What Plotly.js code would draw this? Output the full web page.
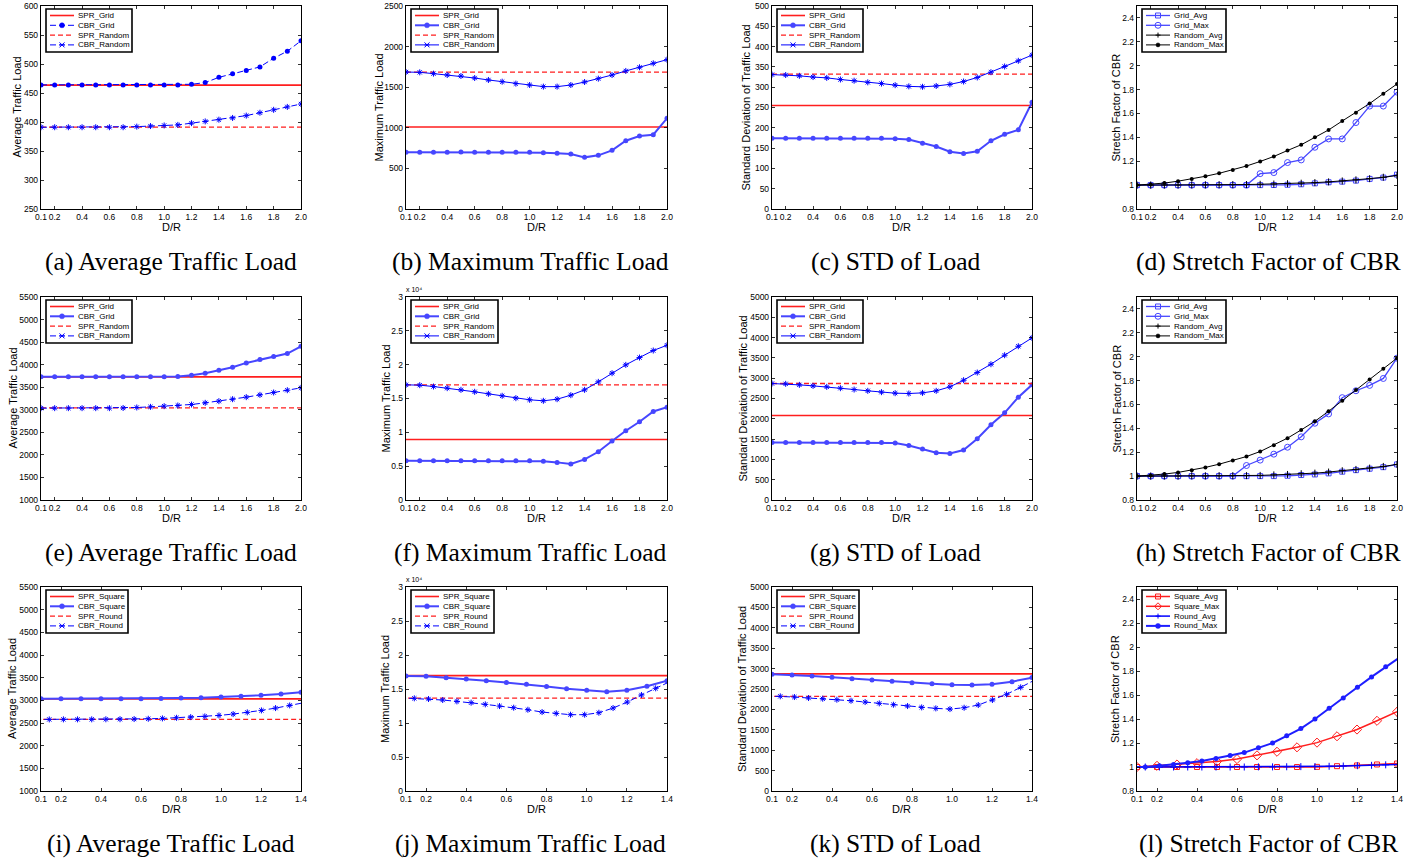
<!DOCTYPE html>
<html><head><meta charset="utf-8">
<script src="https://cdn.plot.ly/plotly-3.0.1.min.js"></script>
<style>html,body{margin:0;padding:0;background:#fff}#chart{width:1421px;height:859px}</style>
</head><body><div id="chart"></div>
<script>
// ---------------- DATA ----------------
const dr = [0.1,0.2,0.3,0.4,0.5,0.6,0.7,0.8,0.9,1.0,1.1,1.2,1.3,1.4,1.5,1.6,1.7,1.8,1.9,2.0];
const drSquare = [0.1,0.2,0.3,0.4,0.5,0.6,0.7,0.8,0.9,1.0,1.1,1.2,1.3,1.4];
const drRound = [0.0707,0.1414,0.2121,0.2828,0.3536,0.4243,0.4950,0.5657,0.6364,0.7071,0.7778,0.8485,0.9192,0.9899,1.0607,1.1314,1.2021,1.2728,1.3435,1.4142];

// (a) Average traffic load
const aSprGrid   = [463.5,463.5,463.5,463.5,463.5,463.5,463.5,463.5,463.5,463.5,463.5,463.5,463.5,463.5,463.5,463.5,463.5,463.5,463.5,463.5];
const aCbrGrid   = [464,464,464,464,464,464,464,464,464,464,464,465,468,477,483,489,495,510,522,540];
const aSprRandom = [391,391,391,391,391,391,391,391,391,391,391,391,391,391,391,391,391,391,391,391];
const aCbrRandom = [391,391,391,391,391,391,391,392,393,394,395,398,401,404,407,411,416,421,426,431];
// (b) Maximum traffic load
const bSprGrid   = [1010,1010,1010,1010,1010,1010,1010,1010,1010,1010,1010,1010,1010,1010,1010,1010,1010,1010,1010,1010];
const bCbrGrid   = [698,698,698,698,702,698,698,698,698,698,694,686,677,636,661,722,841,899,915,1117];
const bSprRandom = [1685,1685,1685,1685,1685,1685,1685,1685,1685,1685,1685,1685,1685,1685,1685,1685,1685,1685,1685,1685];
const bCbrRandom = [1687,1683,1667,1650,1638,1613,1589,1568,1544,1527,1507,1507,1527,1564,1605,1650,1700,1745,1794,1839];
// (c) STD of load
const cSprGrid   = [255,255,255,255,255,255,255,255,255,255,255,255,255,255,255,255,255,255,255,255];
const cCbrGrid   = [174,174,174,174,174,174,174,174,174,173,171,162,154,141,137,142,168,184,195,263];
const cSprRandom = [332,332,332,332,332,332,332,332,332,332,332,332,332,332,332,332,332,332,332,332];
const cCbrRandom = [331,330,328,325,323,319,316,312,309,305,302,301,303,307,314,324,337,351,365,379];
// (d) Stretch factor
const dGridAvg   = [1,1,1,1,1,1,1,1,1,1,1.001,1.003,1.007,1.015,1.024,1.029,1.038,1.052,1.063,1.088];
const dGridMax   = [1,1,1,1,1,1,1,1,1,1.096,1.105,1.189,1.211,1.317,1.387,1.387,1.524,1.662,1.662,1.779];
const dRandomAvg = [1,1,1.001,1.001,1.002,1.002,1.003,1.004,1.005,1.007,1.009,1.012,1.016,1.021,1.027,1.035,1.044,1.054,1.066,1.08];
const dRandomMax = [1,1.006,1.017,1.033,1.052,1.074,1.099,1.127,1.16,1.198,1.24,1.29,1.338,1.4,1.462,1.537,1.607,1.683,1.766,1.847];
// (e)
const eSprGrid   = [3730,3730,3730,3730,3730,3730,3730,3730,3730,3730,3730,3730,3730,3730,3730,3730,3730,3730,3730,3730];
const eCbrGrid   = [3730,3730,3730,3730,3730,3730,3730,3730,3730,3730,3737,3766,3811,3877,3943,4039,4113,4179,4246,4408];
const eSprRandom = [3040,3040,3040,3040,3040,3040,3040,3040,3040,3040,3040,3040,3040,3040,3040,3040,3040,3040,3040,3040];
const eCbrRandom = [3036,3036,3036,3036,3036,3036,3040,3051,3065,3080,3095,3117,3154,3191,3235,3280,3331,3383,3434,3486];
// (f)
const fSprGrid   = [8950,8950,8950,8950,8950,8950,8950,8950,8950,8950,8950,8950,8950,8950,8950,8950,8950,8950,8950,8950];
const fCbrGrid   = [5800,5800,5800,5800,5800,5800,5800,5800,5800,5790,5710,5560,5310,6000,7130,8710,10230,11560,13080,13720];
const fSprRandom = [17000,17000,17000,17000,17000,17000,17000,17000,17000,17000,17000,17000,17000,17000,17000,17000,17000,17000,17000,17000];
const fCbrRandom = [17020,16970,16770,16530,16280,15990,15690,15400,15050,14810,14660,14900,15490,16280,17460,18740,19970,21050,22090,22870];
// (g)
const gSprGrid   = [2082,2082,2082,2082,2082,2082,2082,2082,2082,2082,2082,2082,2082,2082,2082,2082,2082,2082,2082,2082];
const gCbrGrid   = [1418,1418,1418,1418,1418,1418,1418,1418,1418,1402,1344,1254,1164,1148,1230,1508,1852,2148,2533,2836];
const gSprRandom = [2869,2869,2869,2869,2869,2869,2869,2869,2869,2869,2869,2869,2869,2869,2869,2869,2869,2869,2869,2869];
const gCbrRandom = [2869,2861,2836,2811,2787,2754,2721,2689,2656,2631,2623,2639,2689,2787,2951,3139,3344,3566,3787,3992];
// (h)
const hGridAvg   = [1,1,1,1,1,1,1,1,1,1,1,1.003,1.009,1.014,1.023,1.037,1.05,1.062,1.075,1.098];
const hGridMax   = [1,1,1,1,1,1,1,1,1.089,1.134,1.184,1.242,1.329,1.443,1.521,1.657,1.715,1.76,1.818,1.988];
const hRandomAvg = [1,1,1.001,1.001,1.002,1.002,1.003,1.003,1.004,1.006,1.01,1.014,1.02,1.025,1.034,1.045,1.056,1.067,1.081,1.098];
const hRandomMax = [1,1.006,1.017,1.031,1.05,1.073,1.1,1.131,1.164,1.206,1.259,1.318,1.387,1.459,1.543,1.632,1.721,1.81,1.899,1.988];
// (i)
const iSprSquare = [3032,3032,3032,3032,3032,3032,3032,3032,3032,3032,3032,3032,3032,3032];
const iCbrSquare = [3036,3036,3036,3036,3036,3036,3043,3051,3058,3073,3088,3110,3139,3176];
const iSprRound  = [2580,2580,2580,2580,2580,2580,2580,2580,2580,2580,2580,2580,2580,2580,2580,2580,2580,2580,2580,2580];
const iCbrRound  = [2579,2579,2580,2580,2581,2582,2584,2587,2593,2601,2615,2630,2645,2667,2697,2734,2778,2829,2888,2947];
// (j)
const jSprSquare = [16970,16970,16970,16970,16970,16970,16970,16970,16970,16970,16970,16970,16970,16970];
const jCbrSquare = [16920,16870,16670,16480,16230,15940,15690,15350,15050,14810,14610,14810,15400,16230];
const jSprRound  = [13670,13670,13670,13670,13670,13670,13670,13670,13670,13670,13670,13670,13670,13670,13670,13670,13670,13670,13670,13670];
const jCbrRound  = [13700,13630,13530,13380,13180,12990,12740,12490,12250,11950,11610,11410,11220,11220,11510,12200,13080,14120,15100,16080];
// (k)
const kSprSquare = [2870,2870,2870,2870,2870,2870,2870,2870,2870,2870,2870,2870,2870,2870];
const kCbrSquare = [2861,2844,2820,2787,2754,2721,2689,2656,2631,2607,2598,2615,2680,2779];
const kSprRound  = [2320,2320,2320,2320,2320,2320,2320,2320,2320,2320,2320,2320,2320,2320,2320,2320,2320,2320,2320,2320];
const kCbrRound  = [2330,2320,2303,2279,2262,2238,2213,2180,2148,2115,2082,2049,2025,2008,2041,2107,2230,2369,2541,2721];
// (l)
const lSquareAvg = [1,1,1,1,1,1,1,1,1,1.001,1.007,1.013,1.021,1.029];
const lSquareMax = [1,1.01,1.021,1.032,1.046,1.066,1.097,1.127,1.164,1.203,1.256,1.312,1.385,1.46];
const lRoundAvg  = [1,1,1,1,1,1,1,1,1,1.001,1.001,1.002,1.003,1.004,1.006,1.008,1.011,1.014,1.018,1.022];
const lRoundMax  = [1,1.001,1.01,1.021,1.035,1.05,1.07,1.095,1.12,1.16,1.2,1.26,1.32,1.4,1.49,1.575,1.664,1.751,1.835,1.915];

// tick labels
const xTicks20 = [0.1,0.2,0.4,0.6,0.8,1.0,1.2,1.4,1.6,1.8,2.0];
const xTickText20 = ['0.1','0.2','0.4','0.6','0.8','1.0','1.2','1.4','1.6','1.8','2.0'];
const xTicks14 = [0.1,0.2,0.4,0.6,0.8,1.0,1.2,1.4];
const xTickText14 = ['0.1','0.2','0.4','0.6','0.8','1.0','1.2','1.4'];
const yTicksA = [250,300,350,400,450,500,550,600];
const yTicksB = [0,500,1000,1500,2000,2500];
const yTicksC = [0,50,100,150,200,250,300,350,400,450,500];
const yTicksStretch = [0.8,1,1.2,1.4,1.6,1.8,2,2.2,2.4];
const yTickTextStretch = ['0.8','1','1.2','1.4','1.6','1.8','2','2.2','2.4'];
const yTicksE = [1000,1500,2000,2500,3000,3500,4000,4500,5000,5500];
const yTicksMax4 = [0,5000,10000,15000,20000,25000,30000];
const yTickTextMax4 = ['0','0.5','1','1.5','2','2.5','3'];
const yTicksG = [0,500,1000,1500,2000,2500,3000,3500,4000,4500,5000];

// ---------------- LAYOUT / STYLE ----------------
const W = 1421, H = 859;
const PX = v => v / W, PY = v => 1 - v / H;
const colLR = [[41,301],[406,667],[772,1032],[1137,1397]];
const rowTB = [[6,209],[297,500],[587,791]];
const capX = [171, 530, 895, 1268];
const capY = [261, 552, 843];

const RED = 'rgb(255,30,30)', BLUE = 'rgb(0,0,255)', LBLUE = 'rgb(70,70,255)';
const sprSolid = {color: RED, width: 1.6, dash: 'solid'};
const sprDash  = {color: RED, width: 1.3, dash: '5px,3px'};
const cbrDotDash  = {color: BLUE, width: 1, dash: '6px,3px', symbol: 'circle', size: 5};
const cbrDotSolid = {color: LBLUE, width: 2, dash: 'solid', symbol: 'circle', size: 5};
const cbrXSolid   = {color: BLUE, width: 1, dash: 'solid', symbol: 'asterisk-open', size: 5};
const cbrXDash    = {color: BLUE, width: 1, dash: '6px,3px', symbol: 'asterisk-open', size: 5};
const gAvg = {color: LBLUE, width: 1.3, dash: 'solid', symbol: 'square-open', size: 5};
const gMax = {color: LBLUE, width: 1.3, dash: 'solid', symbol: 'circle-open', size: 6};
const rAvg = {color: '#000', width: 1, dash: 'solid', symbol: 'cross-thin-open', size: 5};
const rMax = {color: '#000', width: 1, dash: 'solid', symbol: 'circle', size: 4};
const sqAvg = {color: RED, width: 1.5, dash: 'solid', symbol: 'square-open', size: 5};
const sqMax = {color: RED, width: 1.5, dash: 'solid', symbol: 'diamond-open', size: 7};
const rdAvg = {color: BLUE, width: 1.5, dash: 'solid', symbol: 'cross-thin-open', size: 5};
const rdMax = {color: 'rgb(30,30,255)', width: 2, dash: 'solid', symbol: 'circle', size: 5};

const panels = [
 {row:0,col:0,xr:[0.1,2],xt:xTicks20,xtt:xTickText20,yr:[250,600],yt:yTicksA,ytt:null,title:'Average Traffic Load',tOff:24,cap:'(a) Average Traffic Load',legW:86,
  s:[['SPR_Grid',dr,aSprGrid,sprSolid],['CBR_Grid',dr,aCbrGrid,cbrDotDash],['SPR_Random',dr,aSprRandom,sprDash],['CBR_Random',dr,aCbrRandom,cbrXDash]]},
 {row:0,col:1,xr:[0.1,2],xt:xTicks20,xtt:xTickText20,yr:[0,2500],yt:yTicksB,ytt:null,title:'Maximum Traffic Load',tOff:27,cap:'(b) Maximum Traffic Load',legW:87,
  s:[['SPR_Grid',dr,bSprGrid,sprSolid],['CBR_Grid',dr,bCbrGrid,cbrDotSolid],['SPR_Random',dr,bSprRandom,sprDash],['CBR_Random',dr,bCbrRandom,cbrXSolid]]},
 {row:0,col:2,xr:[0.1,2],xt:xTicks20,xtt:xTickText20,yr:[0,500],yt:yTicksC,ytt:null,title:'Standard Deviation of Traffic Load',tOff:26,cap:'(c) STD of Load',legW:86,
  s:[['SPR_Grid',dr,cSprGrid,sprSolid],['CBR_Grid',dr,cCbrGrid,cbrDotSolid],['SPR_Random',dr,cSprRandom,sprDash],['CBR_Random',dr,cCbrRandom,cbrXSolid]]},
 {row:0,col:3,xr:[0.1,2],xt:xTicks20,xtt:xTickText20,yr:[0.8,2.5],yt:yTicksStretch,ytt:yTickTextStretch,title:'Stretch Factor of CBR',tOff:21,cap:'(d) Stretch Factor of CBR',legW:84,
  s:[['Grid_Avg',dr,dGridAvg,gAvg],['Grid_Max',dr,dGridMax,gMax],['Random_Avg',dr,dRandomAvg,rAvg],['Random_Max',dr,dRandomMax,rMax]]},
 {row:1,col:0,xr:[0.1,2],xt:xTicks20,xtt:xTickText20,yr:[1000,5500],yt:yTicksE,ytt:null,title:'Average Traffic Load',tOff:29,cap:'(e) Average Traffic Load',legW:86,
  s:[['SPR_Grid',dr,eSprGrid,sprSolid],['CBR_Grid',dr,eCbrGrid,cbrDotSolid],['SPR_Random',dr,eSprRandom,sprDash],['CBR_Random',dr,eCbrRandom,cbrXDash]]},
 {row:1,col:1,xr:[0.1,2],xt:xTicks20,xtt:xTickText20,yr:[0,30000],yt:yTicksMax4,ytt:yTickTextMax4,title:'Maximum Traffic Load',tOff:21,cap:'(f) Maximum Traffic Load',legW:87,exp:true,
  s:[['SPR_Grid',dr,fSprGrid,sprSolid],['CBR_Grid',dr,fCbrGrid,cbrDotSolid],['SPR_Random',dr,fSprRandom,sprDash],['CBR_Random',dr,fCbrRandom,cbrXSolid]]},
 {row:1,col:2,xr:[0.1,2],xt:xTicks20,xtt:xTickText20,yr:[0,5000],yt:yTicksG,ytt:null,title:'Standard Deviation of Traffic Load',tOff:30,cap:'(g) STD of Load',legW:86,
  s:[['SPR_Grid',dr,gSprGrid,sprSolid],['CBR_Grid',dr,gCbrGrid,cbrDotSolid],['SPR_Random',dr,gSprRandom,sprDash],['CBR_Random',dr,gCbrRandom,cbrXSolid]]},
 {row:1,col:3,xr:[0.1,2],xt:xTicks20,xtt:xTickText20,yr:[0.8,2.5],yt:yTicksStretch,ytt:yTickTextStretch,title:'Stretch Factor of CBR',tOff:21,cap:'(h) Stretch Factor of CBR',legW:84,
  s:[['Grid_Avg',dr,hGridAvg,gAvg],['Grid_Max',dr,hGridMax,gMax],['Random_Avg',dr,hRandomAvg,rAvg],['Random_Max',dr,hRandomMax,rMax]]},
 {row:2,col:0,xr:[0.1,1.4],xt:xTicks14,xtt:xTickText14,yr:[1000,5500],yt:yTicksE,ytt:null,title:'Average Traffic Load',tOff:29,cap:'(i) Average Traffic Load',legW:82,
  s:[['SPR_Square',drSquare,iSprSquare,sprSolid],['CBR_Square',drSquare,iCbrSquare,cbrDotSolid],['SPR_Round',drRound,iSprRound,sprDash],['CBR_Round',drRound,iCbrRound,cbrXDash]]},
 {row:2,col:1,xr:[0.1,1.4],xt:xTicks14,xtt:xTickText14,yr:[0,30000],yt:yTicksMax4,ytt:yTickTextMax4,title:'Maximum Traffic Load',tOff:21,cap:'(j) Maximum Traffic Load',legW:83,exp:true,
  s:[['SPR_Square',drSquare,jSprSquare,sprSolid],['CBR_Square',drSquare,jCbrSquare,cbrDotSolid],['SPR_Round',drRound,jSprRound,sprDash],['CBR_Round',drRound,jCbrRound,cbrXDash]]},
 {row:2,col:2,xr:[0.1,1.4],xt:xTicks14,xtt:xTickText14,yr:[0,5000],yt:yTicksG,ytt:null,title:'Standard Deviation of Traffic Load',tOff:30,cap:'(k) STD of Load',legW:82,
  s:[['SPR_Square',drSquare,kSprSquare,sprSolid],['CBR_Square',drSquare,kCbrSquare,cbrDotSolid],['SPR_Round',drRound,kSprRound,sprDash],['CBR_Round',drRound,kCbrRound,cbrXDash]]},
 {row:2,col:3,xr:[0.1,1.4],xt:xTicks14,xtt:xTickText14,yr:[0.8,2.5],yt:yTicksStretch,ytt:yTickTextStretch,title:'Stretch Factor of CBR',tOff:22,cap:'(l) Stretch Factor of CBR',legW:84,
  s:[['Square_Avg',drSquare,lSquareAvg,sqAvg],['Square_Max',drSquare,lSquareMax,sqMax],['Round_Avg',drRound,lRoundAvg,rdAvg],['Round_Max',drRound,lRoundMax,rdMax]]}
];

const FONT = 'Liberation Sans, Arial, Helvetica, sans-serif';
const axisCommon = {
  ticks: 'inside', ticklen: 3, tickwidth: 0.8, tickcolor: '#000',
  showline: true, linecolor: '#000', linewidth: 1.2, mirror: 'ticks',
  showgrid: false, zeroline: false, tickangle: 0, fixedrange: true,
  tickfont: {family: FONT, size: 8.5, color: '#000'}
};

const data = [], shapes = [], annotations = [];
const layout = {
  width: W, height: H, margin: {l: 0, r: 0, t: 0, b: 0},
  paper_bgcolor: '#fff', plot_bgcolor: 'rgba(0,0,0,0)', showlegend: false
};

function markerShapes(st, cx, cy) {
  const out = [], c = st.color, r = st.size / 2;
  const ln = (x0, y0, x1, y1) => out.push({type: 'line', xref: 'paper', yref: 'paper', x0: PX(x0), y0: PY(y0), x1: PX(x1), y1: PY(y1), line: {color: c, width: 1}, layer: 'above'});
  switch (st.symbol) {
    case 'circle':
      out.push({type: 'circle', xref: 'paper', yref: 'paper', x0: PX(cx - r), x1: PX(cx + r), y0: PY(cy + r), y1: PY(cy - r), fillcolor: c, line: {color: c, width: 0.5}, layer: 'above'}); break;
    case 'circle-open':
      out.push({type: 'circle', xref: 'paper', yref: 'paper', x0: PX(cx - r), x1: PX(cx + r), y0: PY(cy + r), y1: PY(cy - r), fillcolor: 'rgba(0,0,0,0)', line: {color: c, width: 1}, layer: 'above'}); break;
    case 'square-open':
      out.push({type: 'rect', xref: 'paper', yref: 'paper', x0: PX(cx - r), x1: PX(cx + r), y0: PY(cy + r), y1: PY(cy - r), fillcolor: 'rgba(0,0,0,0)', line: {color: c, width: 1}, layer: 'above'}); break;
    case 'diamond-open':
      out.push({type: 'path', xref: 'paper', yref: 'paper', path: `M${PX(cx - r)},${PY(cy)} L${PX(cx)},${PY(cy - r)} L${PX(cx + r)},${PY(cy)} L${PX(cx)},${PY(cy + r)} Z`, fillcolor: 'rgba(0,0,0,0)', line: {color: c, width: 1}, layer: 'above'}); break;
    case 'cross-thin-open':
      ln(cx - r, cy, cx + r, cy); ln(cx, cy - r, cx, cy + r); break;
    case 'asterisk-open':
      ln(cx - r, cy - r, cx + r, cy + r); ln(cx - r, cy + r, cx + r, cy - r); ln(cx - r, cy, cx + r, cy); break;
  }
  return out;
}

panels.forEach((p, i) => {
  const k = i + 1, sfx = k === 1 ? '' : String(k);
  const xa = 'x' + sfx, ya = 'y' + sfx;
  const [L, R] = colLR[p.col], [T, B] = rowTB[p.row];
  layout['xaxis' + sfx] = Object.assign({}, axisCommon, {domain: [PX(L), PX(R)], anchor: ya, range: p.xr, tickvals: p.xt, ticktext: p.xtt});
  const yax = Object.assign({}, axisCommon, {domain: [PY(B), PY(T)], anchor: xa, range: p.yr, tickvals: p.yt});
  if (p.ytt) yax.ticktext = p.ytt;
  layout['yaxis' + sfx] = yax;

  p.s.forEach(([name, xs, ys, st]) => {
    const tr = {type: 'scatter', name: name, x: xs, y: ys, xaxis: xa, yaxis: ya, showlegend: false,
      mode: st.symbol ? 'lines+markers' : 'lines',
      line: {color: st.color, width: st.width, dash: st.dash},
      cliponaxis: xs !== drRound, hoverinfo: 'skip'};
    if (st.symbol) {
      const open = st.symbol.indexOf('open') >= 0;
      tr.marker = {symbol: st.symbol, size: st.size, color: st.color,
        line: {color: st.color, width: open ? 1 : 0}};
    }
    data.push(tr);
  });

  // legend box (MATLAB style)
  const lx = L + 5, ly = T + 3, lw = p.legW, lh = 43;
  shapes.push({type: 'rect', xref: 'paper', yref: 'paper', x0: PX(lx), x1: PX(lx + lw), y0: PY(ly + lh), y1: PY(ly), fillcolor: '#fff', line: {color: '#000', width: 1.6}, layer: 'above'});
  p.s.forEach(([name, xs, ys, st], j) => {
    const cy = ly + 6.5 + 9.8 * j;
    shapes.push({type: 'line', xref: 'paper', yref: 'paper', x0: PX(lx + 4), x1: PX(lx + 28), y0: PY(cy), y1: PY(cy), line: {color: st.color, width: st.width, dash: st.dash}, layer: 'above'});
    if (st.symbol) markerShapes(st, lx + 16, cy).forEach(s => shapes.push(s));
    annotations.push({xref: 'paper', yref: 'paper', x: PX(lx + 30), y: PY(cy), xanchor: 'left', yanchor: 'middle', showarrow: false, text: name, font: {family: FONT, size: 8, color: '#000'}});
  });

  // y title
  annotations.push({xref: 'paper', yref: 'paper', x: PX(L - p.tOff), y: PY((T + B) / 2), xanchor: 'center', yanchor: 'middle', textangle: -90, showarrow: false, text: p.title, font: {family: FONT, size: 11, color: '#000'}});
  // x title
  annotations.push({xref: 'paper', yref: 'paper', x: PX((L + R) / 2), y: PY(B + 18), xanchor: 'center', yanchor: 'middle', showarrow: false, text: 'D/R', font: {family: FONT, size: 11, color: '#000'}});
  // caption
  annotations.push({xref: 'paper', yref: 'paper', x: PX(capX[p.col]), y: PY(capY[p.row]), xanchor: 'center', yanchor: 'middle', showarrow: false, text: p.cap, font: {family: 'Liberation Serif, Times New Roman, serif', size: 25.5, color: '#000'}});
  if (p.exp) {
    annotations.push({xref: 'paper', yref: 'paper', x: PX(L - 2), y: PY(T - 2), xanchor: 'left', yanchor: 'bottom', showarrow: false, text: 'x 10⁴', font: {family: FONT, size: 7, color: '#000'}});
  }
});

layout.shapes = shapes;
layout.annotations = annotations;
Plotly.newPlot('chart', data, layout, {displayModeBar: false, staticPlot: true});
</script></body></html>
